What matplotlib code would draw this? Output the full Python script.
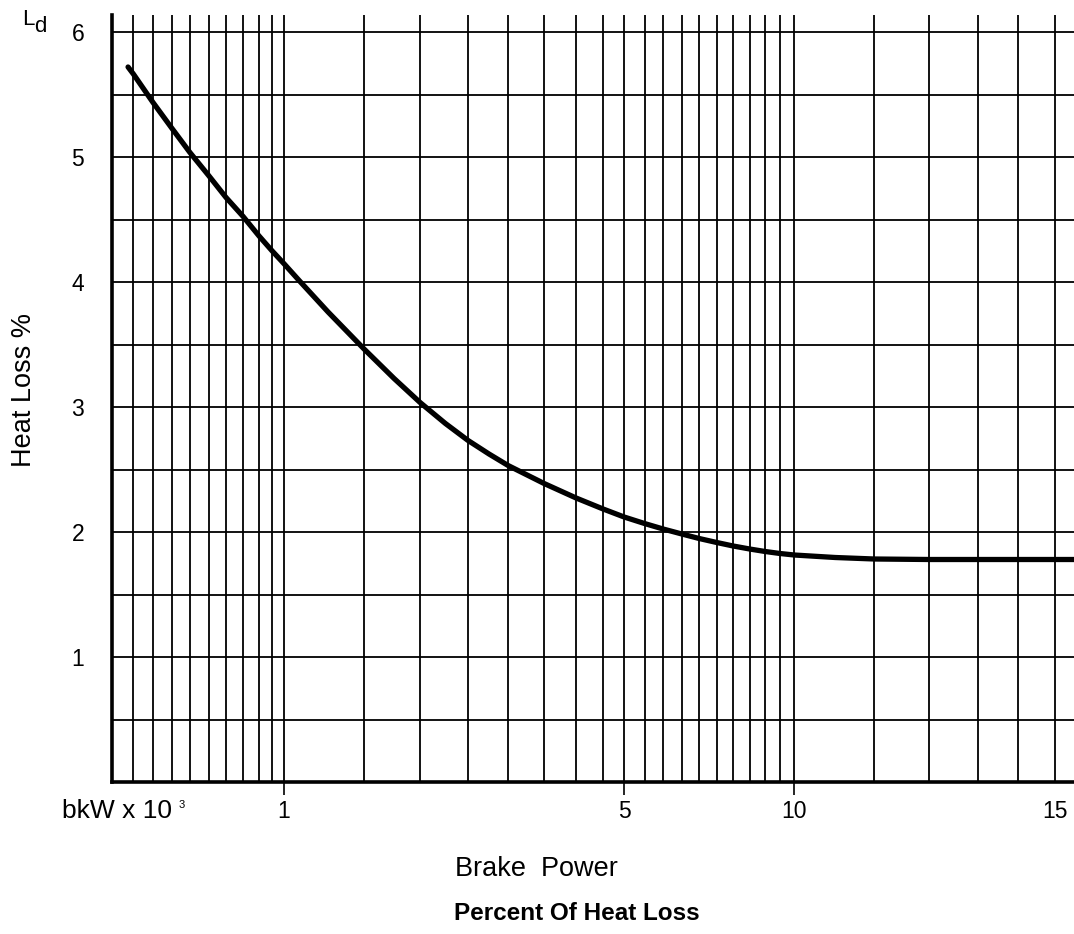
import matplotlib
matplotlib.use('Agg')
import matplotlib.pyplot as plt
import numpy as np
from matplotlib.ticker import FixedLocator, NullFormatter

plt.rcParams['font.family'] = ['Liberation Sans', 'DejaVu Sans']

# Brake power (bkW x 10^3) and heat loss (%)
power = [0.537, 0.55, 0.6, 0.65, 0.7, 0.75, 0.8, 0.85, 0.9, 0.95, 1.0, 1.08,
         1.25, 1.5, 1.75, 2.0, 2.25, 2.5, 2.75, 3.0, 3.5, 4.0, 4.5, 5.0, 5.5,
         6.0, 6.5, 7.0, 7.5, 8.0, 8.5, 9.0, 9.5, 10.0, 10.5, 11.0, 12.0, 13.0,
         14.0, 15.0, 15.56]
heat_loss = [5.72, 5.663, 5.436, 5.226, 5.035, 4.852, 4.676, 4.525, 4.368,
             4.251, 4.146, 4.011, 3.76, 3.464, 3.228, 3.036, 2.868, 2.732,
             2.624, 2.532, 2.388, 2.272, 2.184, 2.12, 2.068, 2.024, 1.984,
             1.948, 1.916, 1.888, 1.864, 1.844, 1.828, 1.816, 1.796, 1.784,
             1.78, 1.78, 1.78, 1.78, 1.78]

# ruling of the chart paper (value -> position along the printed scale)
ruling_vals = [0.5, 0.6, 0.7, 0.8, 0.9, 1, 1.5, 2, 2.5, 3, 3.5, 4, 4.5, 5,
               6, 7, 8, 9, 10, 11, 12, 13, 14, 15, 16]
ruling_pos = [112, 153, 190, 226, 259, 284, 364, 420, 468, 508, 544, 576, 603,
              624, 663, 699, 733, 765, 794, 874, 929, 978, 1018, 1055, 1088]

grid_x = [0.55, 0.6, 0.65, 0.7, 0.75, 0.8, 0.85, 0.9, 0.95,
          1, 1.5, 2, 2.5, 3, 3.5, 4, 4.5, 5, 5.5, 6, 6.5, 7, 7.5, 8, 8.5,
          9, 9.5, 10, 11, 12, 13, 14, 15]
grid_y = [0.5, 1, 1.5, 2, 2.5, 3, 3.5, 4, 4.5, 5, 5.5, 6]
x_ticks = [1, 5, 10, 15]
y_ticks = [1, 2, 3, 4, 5, 6]

log_vals = np.log10(ruling_vals)


def forward(x):
    x = np.clip(np.asarray(x, dtype=float), 1e-3, None)
    return np.interp(np.log10(x), log_vals, ruling_pos)


def inverse(p):
    return 10 ** np.interp(p, ruling_pos, log_vals)


fig = plt.figure(figsize=(10.74, 9.34), dpi=100)
ax = fig.add_axes([112 / 1074, 1 - 782 / 934, 962 / 1074, 767 / 934])

ax.set_xscale('function', functions=(forward, inverse))
ax.set_xlim(0.5, 15.56)
ax.set_ylim(0, 6.136)

# grid lines of the paper
for gx in grid_x:
    ax.axvline(gx, color='black', lw=1.3, zorder=1)
for gy in grid_y:
    ax.axhline(gy, color='black', lw=1.3, zorder=1)

ax.plot(power, heat_loss, color='black', lw=3.8, solid_capstyle='round',
        solid_joinstyle='round', zorder=3)

ax.xaxis.set_major_locator(FixedLocator(x_ticks))
ax.set_xticklabels([str(t) for t in x_ticks])
ax.xaxis.set_minor_locator(FixedLocator([]))
ax.xaxis.set_minor_formatter(NullFormatter())
ax.tick_params(axis='x', direction='out', length=9, width=1.2, pad=4,
               labelsize=16.5)
ax.xaxis.get_major_ticks()[3].tick1line.set_visible(False)

ax.yaxis.set_major_locator(FixedLocator(y_ticks))
ax.set_yticklabels([str(t) for t in y_ticks])
ax.tick_params(axis='y', length=0, pad=20, labelsize=16.5)

for s in ['top', 'right']:
    ax.spines[s].set_visible(False)
for s in ['left', 'bottom']:
    ax.spines[s].set_linewidth(2.6)
    ax.spines[s].set_zorder(4)

ax.set_ylabel('Heat Loss %', fontsize=19.5)
ax.yaxis.set_label_coords(-0.078, 0.511)

fig.text(536 / 1074, 1 - 869 / 934, 'Brake  Power', fontsize=19.5,
         ha='center', va='center')
fig.text(577 / 1074, 1 - 914 / 934, 'Percent Of Heat Loss', fontsize=17.5,
         fontweight='bold', ha='center', va='center')

fig.text(62 / 1074, 1 - 818 / 934, 'bkW x 10', fontsize=19,
         ha='left', va='baseline')
fig.text(179 / 1074, 1 - 808 / 934, '3', fontsize=8,
         ha='left', va='baseline')

fig.text(22 / 1074, 1 - 25 / 934, 'L', fontsize=16, ha='left', va='baseline')
fig.text(34 / 1074, 1 - 32 / 934, 'd', fontsize=16, ha='left', va='baseline')

fig.savefig('out.png', dpi=100)
